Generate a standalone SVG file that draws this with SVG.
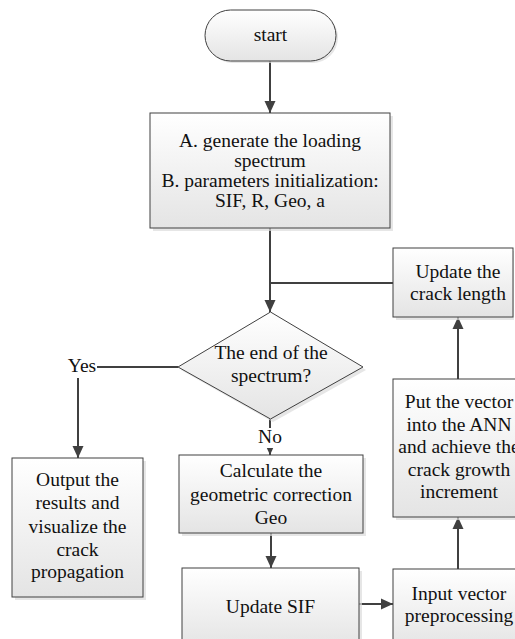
<svg xmlns="http://www.w3.org/2000/svg" width="515" height="639" viewBox="0 0 515 639" font-family="'Liberation Serif', 'DejaVu Serif', 'Times New Roman', serif">
<defs>
<linearGradient id="g" x1="0" y1="0" x2="0" y2="1">
<stop offset="0" stop-color="#ffffff"/>
<stop offset="1" stop-color="#e4e4e4"/>
</linearGradient>
<marker id="ah" markerUnits="userSpaceOnUse" markerWidth="12" markerHeight="12" viewBox="0 0 12 12" refX="12" refY="6" orient="auto">
<path d="M0,0.5 L12,6 L0,11.5 Z" fill="#404040"/>
</marker>
</defs>
<style>
.box{fill:url(#g);stroke:#404040;stroke-width:1}
.sh{fill:#dcdcdc;opacity:0.7}
.t{font-family:'Liberation Serif','DejaVu Serif',serif;font-size:19.5px;fill:#111;text-anchor:middle}
.c{stroke:#404040;stroke-width:2;fill:none}
.a{marker-end:url(#ah)}
</style>
<rect width="515" height="639" fill="#fff"/>
<g id="connectors">
<line class="c a" x1="270" y1="61" x2="270" y2="113"/>
<line class="c a" x1="270" y1="228" x2="270" y2="312"/>
<line class="c" x1="393" y1="283" x2="270" y2="283"/>
<line class="c" x1="178" y1="367" x2="97" y2="367"/>
<line class="c a" x1="78" y1="378" x2="78" y2="458"/>
<line class="c a" x1="270" y1="419" x2="270" y2="455"/>
<line class="c a" x1="271" y1="533" x2="271" y2="568"/>
<line class="c a" x1="359" y1="604" x2="393" y2="604"/>
<line class="c a" x1="458" y1="569" x2="458" y2="517"/>
<line class="c a" x1="458" y1="379" x2="458" y2="317"/>
<rect x="258" y="428" width="24" height="20" fill="#fff"/>
<text class="t" x="270" y="443">No</text>
<text class="t" x="82" y="372">Yes</text>
</g>
<g id="start">
<rect class="sh" x="207" y="12" width="131" height="51" rx="25.5"/>
<rect class="box" x="205" y="10" width="131" height="51" rx="25.5"/>
<text class="t" x="270.5" y="41">start</text>
</g>
<g id="init">
<rect class="sh" x="153" y="116" width="240" height="115"/>
<rect class="box" x="150" y="113" width="240" height="115"/>
<text class="t" x="270" y="147">A. generate the loading</text>
<text class="t" x="270" y="167">spectrum</text>
<text class="t" x="270" y="187">B. parameters initialization:</text>
<text class="t" x="270" y="207">SIF, R, Geo, a</text>
</g>
<g id="decision">
<polygon class="sh" points="273,315 366,370 273,422 181,370"/>
<polygon class="box" points="270.5,312 363,367 270.5,419 178,367"/>
<text class="t" x="271" y="359">The end of the</text>
<text class="t" x="271" y="382">spectrum?</text>
</g>
<g id="output">
<rect class="sh" x="15" y="461" width="131" height="139"/>
<rect class="box" x="12" y="458" width="131" height="139"/>
<text class="t" x="77.5" y="486">Output the</text>
<text class="t" x="77.5" y="509">results and</text>
<text class="t" x="77.5" y="533">visualize the</text>
<text class="t" x="77.5" y="556">crack</text>
<text class="t" x="77.5" y="578">propagation</text>
</g>
<g id="calc">
<rect class="sh" x="182" y="458" width="184" height="78"/>
<rect class="box" x="179" y="455" width="184" height="78"/>
<text class="t" x="271" y="477">Calculate the</text>
<text class="t" x="271" y="501">geometric correction</text>
<text class="t" x="271" y="524">Geo</text>
</g>
<g id="updatesif">
<rect class="sh" x="185" y="571" width="177" height="80"/>
<rect class="box" x="182" y="568" width="177" height="80"/>
<text class="t" x="270.5" y="613">Update SIF</text>
</g>
<g id="inputvec">
<rect class="sh" x="396" y="572" width="131" height="80"/>
<rect class="box" x="393" y="569" width="131" height="80"/>
<text class="t" x="459" y="600">Input vector</text>
<text class="t" x="459" y="622">preprocessing</text>
</g>
<g id="ann">
<rect class="sh" x="396" y="382" width="131" height="138"/>
<rect class="box" x="393" y="379" width="131" height="138"/>
<text class="t" x="459" y="408">Put the vector</text>
<text class="t" x="459" y="431">into the ANN</text>
<text class="t" x="459" y="453">and achieve the</text>
<text class="t" x="459" y="476">crack growth</text>
<text class="t" x="459" y="498">increment</text>
</g>
<g id="updatelen">
<rect class="sh" x="396" y="251" width="118" height="69"/>
<rect class="box" x="393" y="248" width="120" height="69"/>
<text class="t" x="458" y="278">Update the</text>
<text class="t" x="458" y="300">crack length</text>
</g>
</svg>
